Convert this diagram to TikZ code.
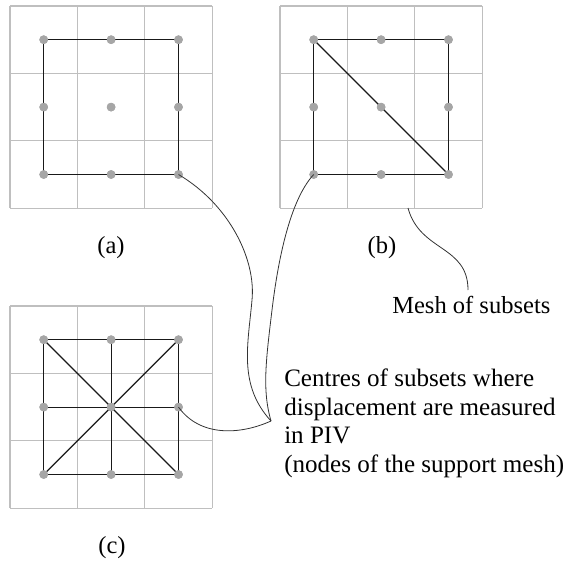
\documentclass[tikz,border=0pt]{standalone}
\usepackage{fontspec}
\setmainfont{Liberation Serif}
\begin{document}
\begin{tikzpicture}[x=0.75pt,y=-0.75pt,
  gridline/.style={draw=black!25,line width=0.8pt},
  meshline/.style={draw=black!90,line width=0.9pt},
  dot/.style={circle,fill=black!35,inner sep=0pt,minimum size=6.5pt},
  leader/.style={draw=black!80,line width=0.6pt},
  lbl/.style={font=\fontsize{18.4}{21.4}\selectfont,inner sep=0pt},
  biglbl/.style={font=\fontsize{18.8}{21.4}\selectfont,inner sep=0pt},
]
\useasboundingbox (0,0) rectangle (563,560);
% ---------- grids ----------
\foreach \gx/\gy in {10/6, 280/6, 10/306}{
  \foreach \i in {0,1,2,3}{
    \draw[gridline] (\gx+67.4*\i,\gy) -- (\gx+67.4*\i,\gy+202.2);
    \draw[gridline] (\gx,\gy+67.4*\i) -- (\gx+202.2,\gy+67.4*\i);
  }
}
% ---------- nodes ----------
\foreach \i/\x in {0/43.7,1/111.1,2/178.5}{
  \foreach \j/\y in {0/39.7,1/107.1,2/174.5}{
    \node[dot] (a\i\j) at (\x,\y) {};
    \node[dot] (b\i\j) at (\x+270,\y) {};
    \node[dot] (c\i\j) at (\x,\y+300) {};
  }
}
% ---------- mesh (a) ----------
\draw[meshline] (a00.center) -- (a20.center) -- (a22.center) -- (a02.center) -- cycle;
% ---------- mesh (b) ----------
\draw[meshline] (b00.center) -- (b20.center) -- (b22.center) -- (b02.center) -- cycle;
\draw[meshline] (b00.center) -- (b22.center);
% ---------- mesh (c) ----------
\draw[meshline] (c00.center) -- (c20.center) -- (c22.center) -- (c02.center) -- cycle;
\draw[meshline] (c00.center) -- (c22.center);
\draw[meshline] (c20.center) -- (c02.center);
\draw[meshline] (c10.center) -- (c12.center);
\draw[meshline] (c01.center) -- (c21.center);
% redraw dots on top
\foreach \n in {a,b,c}{
  \foreach \i in {0,1,2}{
    \foreach \j in {0,1,2}{
      \fill[black!35] (\n\i\j) circle (3.25pt);
    }
  }
}
% ---------- labels ----------
\node[lbl,anchor=base] (la) at (111,253) {(a)};
\node[lbl,anchor=base] (lb) at (382,253) {(b)};
\node[lbl,anchor=base] (lc) at (112,553) {(c)};
\node[lbl,anchor=base west] (mesh) at (392,313) {Mesh of subsets};
\node[biglbl,anchor=base west,align=left] (centres) at (284,472.5)
  {Centres of subsets where\\displacement are measured\\in PIV\\(nodes of the support mesh)};
% ---------- leaders ----------
\coordinate (P) at (271,421);
\coordinate (M0) at (408,208);
\coordinate (M1) at (468,290);
\draw[leader] (a22.center) .. controls (230,205) and (256,260) .. (252,300)
   .. controls (248,345) and (238,385) .. (P);
\draw[leader] (b02.center) .. controls (290,200) and (278,260) .. (272,310)
   .. controls (266,360) and (262,390) .. (P);
\draw[leader] (c21.center) .. controls (200,437) and (240,435) .. (P);
\draw[leader] (M0) .. controls (420,252) and (468,245) .. (M1);
\end{tikzpicture}
\end{document}
